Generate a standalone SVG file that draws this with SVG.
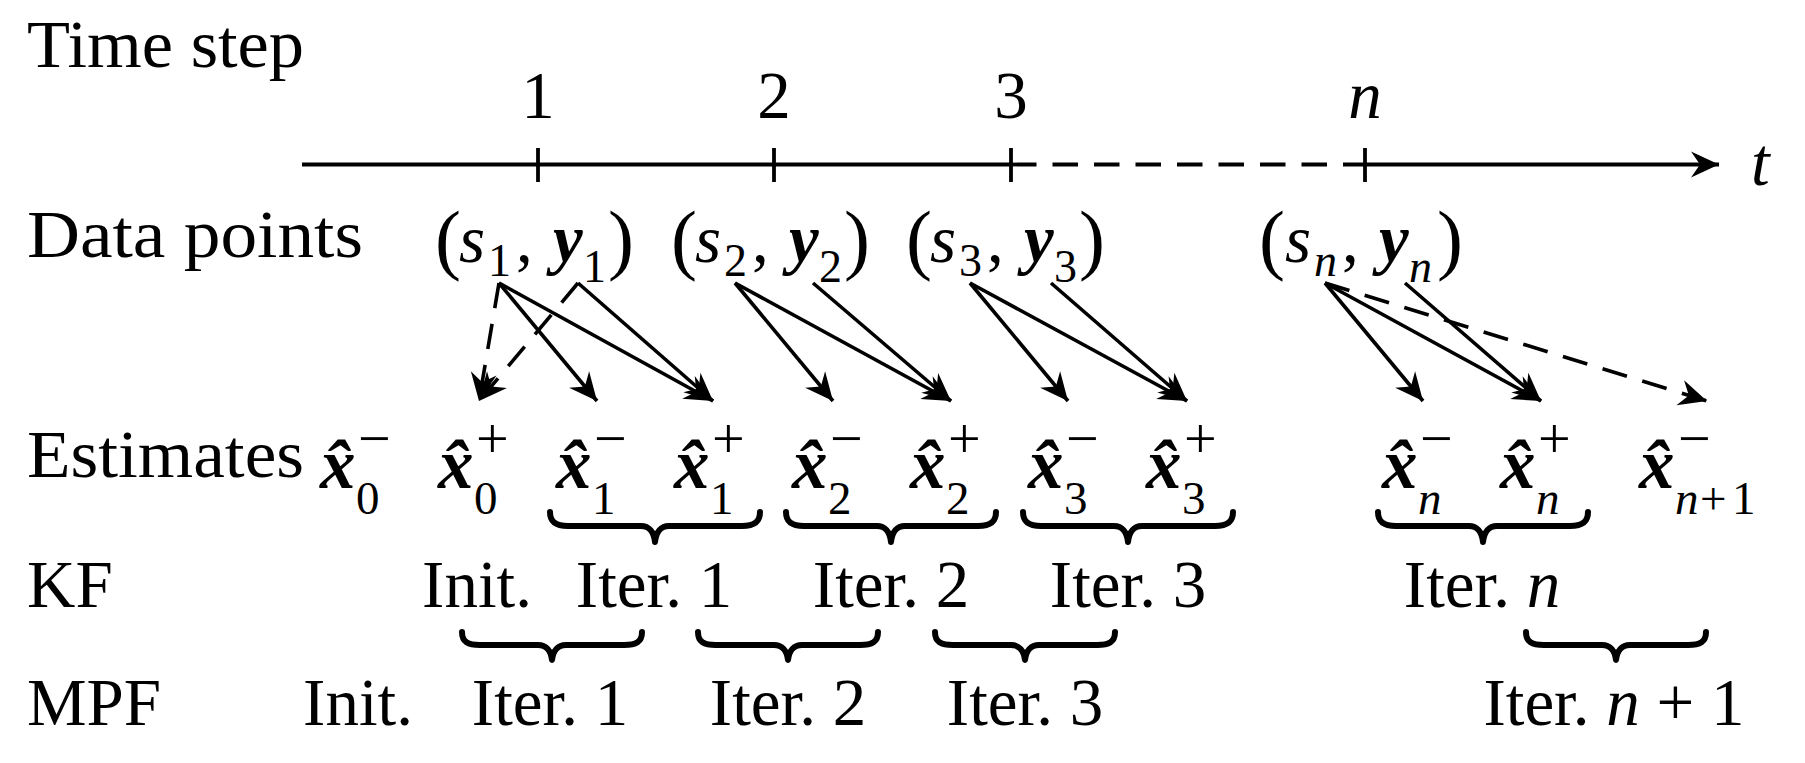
<svg xmlns="http://www.w3.org/2000/svg" width="1805" height="763" viewBox="0 0 1805 763">
<style>
text{font-family:"Liberation Serif","Times New Roman",serif;font-size:67px;fill:#000}
.i{font-style:italic}
.b{font-weight:bold}
.bi{font-style:italic;font-weight:bold}
.xb{font-style:italic;font-weight:bold;font-size:71px}
.sub{font-size:47px}
.sup{font-size:58px}
.dsub{font-size:46px}
.par{font-size:78px}
.m{text-anchor:middle}
.e{text-anchor:end}
.ln{stroke:#000;stroke-width:3.6;fill:none}
.ax{stroke:#000;stroke-width:3.8;fill:none}
.dash{stroke-dasharray:25.5 16}
.brace{stroke:#000;stroke-width:6;fill:none;stroke-linecap:round;stroke-linejoin:round}
</style>
<defs>
<marker id="ah" markerUnits="userSpaceOnUse" viewBox="-30 -15 32 30" refX="0" refY="0" markerWidth="32" markerHeight="30" orient="auto">
<path d="M0,0 L-28,-13 L-19,0 L-28,13 Z" fill="#000"/>
</marker>
</defs>
<rect width="1805" height="763" fill="#fff"/>

<g id="row-labels">
<text x="27" y="67" textLength="277" lengthAdjust="spacingAndGlyphs">Time step</text>
<text x="27" y="257" textLength="336" lengthAdjust="spacingAndGlyphs">Data points</text>
<text x="27" y="477" textLength="277" lengthAdjust="spacingAndGlyphs">Estimates</text>
<text x="27" y="607">KF</text>
<text x="27" y="725">MPF</text>
</g>

<g id="timeline">
<line class="ax" x1="302" y1="164.5" x2="1011" y2="164.5"/>
<line class="ax dash" x1="1011" y1="164.5" x2="1365" y2="164.5"/>
<line class="ax" x1="1365" y1="164.5" x2="1719" y2="164.5" marker-end="url(#ah)"/>
<line class="ax" x1="538" y1="148" x2="538" y2="182"/>
<line class="ax" x1="774" y1="148" x2="774" y2="182"/>
<line class="ax" x1="1011" y1="148" x2="1011" y2="182"/>
<line class="ax" x1="1365" y1="148" x2="1365" y2="182"/>
<text class="m" x="538" y="118">1</text>
<text class="m" x="774" y="118">2</text>
<text class="m" x="1011" y="118">3</text>
<text class="m i" x="1365" y="118">n</text>
<text class="i" x="1751" y="185">t</text>
</g>

<g id="data-1"><text><tspan class="par" x="435" y="265">(</tspan><tspan class="i" x="459" y="262">s</tspan><tspan class="dsub" x="488" y="276">1</tspan><tspan x="516" y="262">,</tspan><tspan class="bi" x="553" y="262">y</tspan><tspan class="dsub" x="583" y="282">1</tspan><tspan class="par" x="608" y="265">)</tspan></text></g>
<g id="data-2"><text><tspan class="par" x="671" y="265">(</tspan><tspan class="i" x="695" y="262">s</tspan><tspan class="dsub" x="724" y="276">2</tspan><tspan x="752" y="262">,</tspan><tspan class="bi" x="789" y="262">y</tspan><tspan class="dsub" x="819" y="282">2</tspan><tspan class="par" x="844" y="265">)</tspan></text></g>
<g id="data-3"><text><tspan class="par" x="906" y="265">(</tspan><tspan class="i" x="930" y="262">s</tspan><tspan class="dsub" x="959" y="276">3</tspan><tspan x="987" y="262">,</tspan><tspan class="bi" x="1024" y="262">y</tspan><tspan class="dsub" x="1054" y="282">3</tspan><tspan class="par" x="1079" y="265">)</tspan></text></g>
<g id="data-n"><text><tspan class="par" x="1259" y="265">(</tspan><tspan class="i" x="1285" y="262">s</tspan><tspan class="dsub i" x="1314" y="276">n</tspan><tspan x="1342" y="262">,</tspan><tspan class="bi" x="1379" y="262">y</tspan><tspan class="dsub i" x="1409" y="282">n</tspan><tspan class="par" x="1437" y="265">)</tspan></text></g>

<g id="est-0m"><text><tspan class="xb" x="320" y="488">x̂</tspan><tspan class="sub" x="356" y="514">0</tspan><tspan class="sup" x="358" y="458">−</tspan></text></g>
<g id="est-0p"><text><tspan class="xb" x="438" y="488">x̂</tspan><tspan class="sub" x="474" y="514">0</tspan><tspan class="sup" x="476" y="458">+</tspan></text></g>
<g id="est-1m"><text><tspan class="xb" x="556" y="488">x̂</tspan><tspan class="sub" x="592" y="514">1</tspan><tspan class="sup" x="594" y="458">−</tspan></text></g>
<g id="est-1p"><text><tspan class="xb" x="674" y="488">x̂</tspan><tspan class="sub" x="710" y="514">1</tspan><tspan class="sup" x="712" y="458">+</tspan></text></g>
<g id="est-2m"><text><tspan class="xb" x="792" y="488">x̂</tspan><tspan class="sub" x="828" y="514">2</tspan><tspan class="sup" x="830" y="458">−</tspan></text></g>
<g id="est-2p"><text><tspan class="xb" x="910" y="488">x̂</tspan><tspan class="sub" x="946" y="514">2</tspan><tspan class="sup" x="948" y="458">+</tspan></text></g>
<g id="est-3m"><text><tspan class="xb" x="1028" y="488">x̂</tspan><tspan class="sub" x="1064" y="514">3</tspan><tspan class="sup" x="1066" y="458">−</tspan></text></g>
<g id="est-3p"><text><tspan class="xb" x="1146" y="488">x̂</tspan><tspan class="sub" x="1182" y="514">3</tspan><tspan class="sup" x="1184" y="458">+</tspan></text></g>
<g id="est-nm"><text><tspan class="xb" x="1382" y="488">x̂</tspan><tspan class="sub i" x="1418" y="514">n</tspan><tspan class="sup" x="1420" y="458">−</tspan></text></g>
<g id="est-np"><text><tspan class="xb" x="1500" y="488">x̂</tspan><tspan class="sub i" x="1536" y="514">n</tspan><tspan class="sup" x="1538" y="458">+</tspan></text></g>
<g id="est-n1m"><text><tspan class="xb" x="1639" y="488">x̂</tspan><tspan class="sub i" x="1675" y="514">n</tspan><tspan class="sub" x="1700" y="514">+</tspan><tspan class="sub" x="1732" y="514">1</tspan><tspan class="sup" x="1678" y="458">−</tspan></text></g>

<g id="braces-kf">
<path class="brace" d="M550,512 C550,522 556,526 568,526 L641,526 C649,526 654,532 655,542 C656,532 661,526 669,526 L742,526 C754,526 760,522 760,512"/>
<path class="brace" d="M786,512 C786,522 792,526 804,526 L877,526 C885,526 890,532 891,542 C892,532 897,526 905,526 L978,526 C990,526 996,522 996,512"/>
<path class="brace" d="M1023,512 C1023,522 1029,526 1041,526 L1114,526 C1122,526 1127,532 1128,542 C1129,532 1134,526 1142,526 L1215,526 C1227,526 1233,522 1233,512"/>
<path class="brace" d="M1378,512 C1378,522 1384,526 1396,526 L1469,526 C1477,526 1482,532 1483,542 C1484,532 1489,526 1497,526 L1570,526 C1582,526 1588,522 1588,512"/>
</g>

<g id="kf-labels">
<text class="m" x="477" y="607">Init.</text>
<text class="m" x="654" y="607">Iter. 1</text>
<text class="m" x="891" y="607">Iter. 2</text>
<text class="m" x="1128" y="607">Iter. 3</text>
<text class="m" x="1482" y="607">Iter. <tspan class="i">n</tspan></text>
</g>

<g id="braces-mpf">
<path class="brace" d="M462,632 C462,642 468,645 480,645 L538,645 C546,645 551,651 552,660 C553,651 558,645 566,645 L624,645 C636,645 642,642 642,632"/>
<path class="brace" d="M698,632 C698,642 704,645 716,645 L774,645 C782,645 787,651 788,660 C789,651 794,645 802,645 L860,645 C872,645 878,642 878,632"/>
<path class="brace" d="M935,632 C935,642 941,645 953,645 L1011,645 C1019,645 1024,651 1025,660 C1026,651 1031,645 1039,645 L1097,645 C1109,645 1115,642 1115,632"/>
<path class="brace" d="M1526,632 C1526,642 1532,645 1544,645 L1602,645 C1610,645 1615,651 1616,660 C1617,651 1622,645 1630,645 L1688,645 C1700,645 1706,642 1706,632"/>
</g>

<g id="mpf-labels">
<text class="m" x="358" y="725">Init.</text>
<text class="m" x="550" y="725">Iter. 1</text>
<text class="m" x="788" y="725">Iter. 2</text>
<text class="m" x="1025" y="725">Iter. 3</text>
<text class="m" x="1614" y="725">Iter. <tspan class="i">n</tspan> + 1</text>
</g>

<g id="connectors">
<line class="ln dash" x1="499" y1="283" x2="479" y2="401" marker-end="url(#ah)"/>
<line class="ln dash" x1="578" y1="283" x2="479" y2="401" marker-end="url(#ah)"/>
<line class="ln" x1="499" y1="283" x2="597" y2="401" marker-end="url(#ah)"/>
<line class="ln" x1="499" y1="283" x2="713" y2="401" marker-end="url(#ah)"/>
<line class="ln" x1="578" y1="283" x2="713" y2="401" marker-end="url(#ah)"/>
<line class="ln" x1="735" y1="283" x2="833" y2="401" marker-end="url(#ah)"/>
<line class="ln" x1="735" y1="283" x2="951" y2="401" marker-end="url(#ah)"/>
<line class="ln" x1="813" y1="283" x2="951" y2="401" marker-end="url(#ah)"/>
<line class="ln" x1="970" y1="283" x2="1068" y2="401" marker-end="url(#ah)"/>
<line class="ln" x1="970" y1="283" x2="1187" y2="401" marker-end="url(#ah)"/>
<line class="ln" x1="1051" y1="283" x2="1187" y2="401" marker-end="url(#ah)"/>
<line class="ln" x1="1325" y1="283" x2="1423" y2="401" marker-end="url(#ah)"/>
<line class="ln" x1="1325" y1="283" x2="1541" y2="401" marker-end="url(#ah)"/>
<line class="ln" x1="1405" y1="283" x2="1541" y2="401" marker-end="url(#ah)"/>
<line class="ln dash" x1="1325" y1="283" x2="1707" y2="401" marker-end="url(#ah)"/>
</g>
</svg>
